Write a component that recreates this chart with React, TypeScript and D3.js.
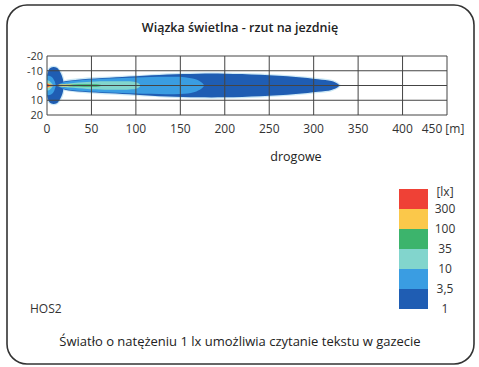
import * as d3 from 'd3'

// x ticks [m], y ticks [m]
const xTicks = [0, 50, 100, 150, 200, 250, 300, 350, 400, 450]
const yTicks = [-20, -10, 0, 10, 20]

// beam contours: [distance m, half-width m], symmetric about y = 0
const nearDark = [[0, 6], [1, 9], [3, 11.5], [7, 12.5], [11, 12], [14, 10], [16.5, 7], [18, 4], [19, 0]]
const nearLight = [[0, 6.5], [3, 6.5], [6, 5.5], [8.5, 3], [10, 0]]
const nearTeal = [[0, 3.5], [2, 3.3], [4, 2.4], [6, 1], [7, 0]]
const nearYellow = [[0, 1.8], [2, 1.4], [4, 0.8], [5, 0]]
const nearRed = [[0, 1], [2, 0.7], [3, 0]]

const beamDark = [[13, 1.2], [20, 2.8], [40, 4.3], [70, 5.3], [100, 6.2], [135, 7.4], [170, 8], [200, 8], [240, 7.3], [280, 5.8], [305, 4.3], [320, 3], [327, 1.2], [329, 0]]
const beamLight = [[14, 1], [20, 2.4], [40, 3.8], [70, 4.8], [100, 5.5], [135, 5.9], [155, 5.6], [168, 4], [175, 1.5], [177, 0]]
const beamTeal = [[14, 0.6], [25, 1.4], [45, 2.3], [65, 2.8], [90, 2.8], [100, 2.2], [104, 1], [105, 0]]
const beamGreen = [[18, 0.3], [30, 0.7], [45, 0.8], [58, 0.6], [63, 0]]
const beamYellow = [[12, 0.5], [20, 0.6], [30, 0.4], [34, 0]]
const beamRed = [[1, 0.3], [4, 0.5], [8, 0.3], [10, 0]]

// legend, top to bottom
const legendColors = ['#ef4136', '#fbc84a', '#3cb46c', '#82d5cd', '#3a9de2', '#1f5db3']
const legendLabels = ['[lx]', '300', '100', '35', '10', '3,5', '1']

const C = legendColors
const shapes: [number[][], string][] = [
  [nearDark, C[5]], [nearLight, C[4]], [nearTeal, C[3]],
  [beamDark, C[5]], [beamLight, C[4]], [beamTeal, C[3]], [beamGreen, C[2]], [beamYellow, C[1]],
  [nearYellow, C[1]], [nearRed, C[0]], [beamRed, C[0]],
]

const W = 479
const H = 367
const font = '"Open Sans", "Noto Sans", sans-serif'

export default function App() {
  const x = d3.scaleLinear().domain([0, 450]).range([47, 447])
  const y = d3.scaleLinear().domain([-20, 20]).range([56, 115])

  const area = d3.area<number[]>()
    .x(d => x(d[0]))
    .y0(d => y(-d[1]))
    .y1(d => y(d[1]))
    .curve(d3.curveCatmullRom)

  const ly = d3.scaleBand<number>().domain(d3.range(legendColors.length)).range([189, 309])

  return (
    <svg width={W} height={H} style={{ position: 'absolute', left: 0, top: 0, background: '#fff' }} fontFamily={font}>
      <rect x={7} y={5} width={467} height={359} rx={20} fill="#fff" stroke="#333" strokeWidth={1.6} />

      <text x={240} y={32} textAnchor="middle" fontSize={12.5} fontWeight={600} fill="#222">
        Wiązka świetlna - rzut na jezdnię
      </text>

      {/* pale halo under the dark blue shapes */}
      <path d={area(nearDark) ?? ''} fill="none" stroke="#cde9f6" strokeWidth={2.5} />
      <path d={area(beamDark) ?? ''} fill="none" stroke="#cde9f6" strokeWidth={2.5} />

      {shapes.map(([pts, color], i) => (
        <path key={i} d={area(pts) ?? ''} fill={color} />
      ))}

      {/* grid */}
      {xTicks.map(t => (
        <line key={'gx' + t} x1={x(t)} x2={x(t)} y1={y(-20)} y2={y(20)} stroke="#444" strokeWidth={1} />
      ))}
      {yTicks.map(t => (
        <line key={'gy' + t} x1={x(0)} x2={x(450)} y1={y(t)} y2={y(t)} stroke="#444" strokeWidth={1} />
      ))}

      {yTicks.map(t => (
        <text key={'ty' + t} x={43} y={y(t) + 4} textAnchor="end" fontSize={11} fill="#333">{t}</text>
      ))}
      {xTicks.map((t, i) => (
        <text key={'tx' + t} x={i === xTicks.length - 1 ? x(t) - 4 : x(t)} y={133} textAnchor="middle" fontSize={12} fill="#333">
          {i === xTicks.length - 1 ? `${t} [m]` : t}
        </text>
      ))}

      <text x={296} y={161} textAnchor="middle" fontSize={12.5} fill="#222">drogowe</text>

      {legendColors.map((c, i) => (
        <rect key={'lg' + i} x={399} y={ly(i)} width={29} height={ly.bandwidth()} fill={c} />
      ))}
      {legendLabels.map((l, i) => (
        <text key={'ll' + i} x={445} y={189 + i * ly.bandwidth() + (i === 0 ? 7 : 4)} textAnchor="middle" fontSize={12} fill="#333">{l}</text>
      ))}

      <text x={30} y={313} fontSize={12} fill="#333">HOS2</text>

      <text x={240} y={346} textAnchor="middle" fontSize={13} fill="#222">
        Światło o natężeniu 1 lx umożliwia czytanie tekstu w gazecie
      </text>
    </svg>
  )
}
